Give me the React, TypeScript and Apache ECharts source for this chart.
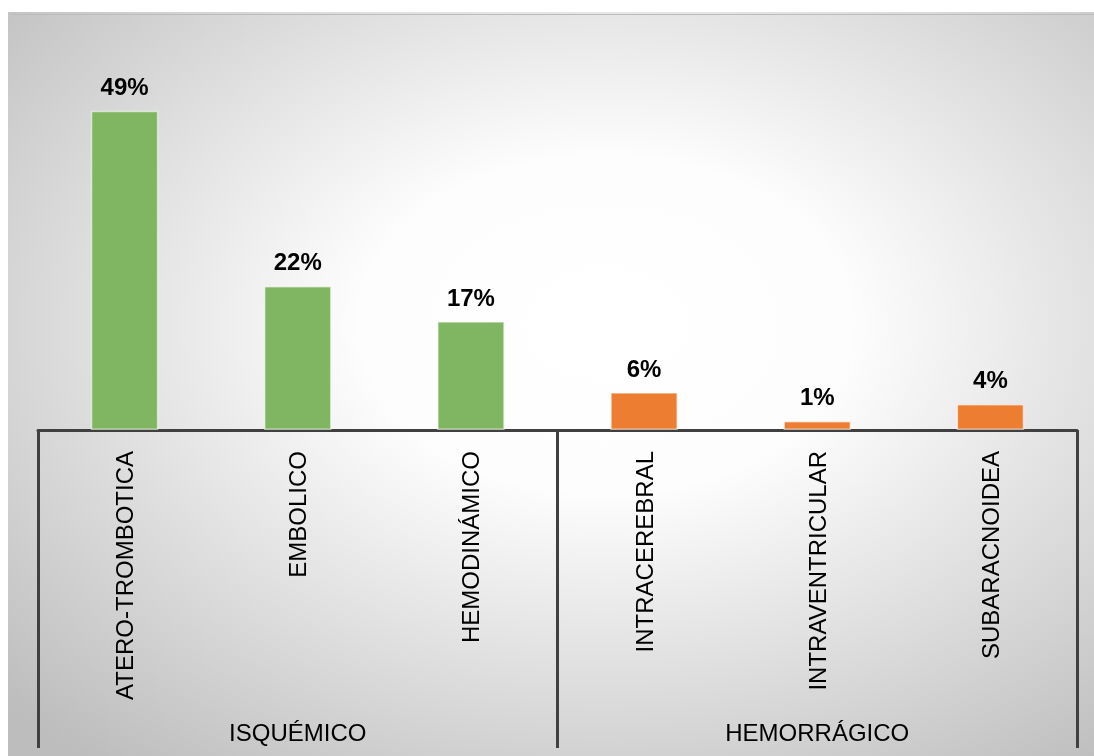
import React, { useEffect, useRef } from "react";
import * as echarts from "echarts";

const categories = [
  "ATERO-TROMBOTICA",
  "EMBOLICO",
  "HEMODINÁMICO",
  "INTRACEREBRAL",
  "INTRAVENTRICULAR",
  "SUBARACNOIDEA",
];
// bar heights (labels show the rounded percent)
const values = [49, 22.1, 16.7, 5.8, 1.4, 4];
const groups = ["ISQUÉMICO", "HEMORRÁGICO"];
const groupOf = [0, 0, 0, 1, 1, 1];
const groupColors = ["#80b661", "#ed7d31"];

const FONT = 'Arial, "Liberation Sans", sans-serif';

export default function App() {
  const ref = useRef<HTMLDivElement>(null);
  useEffect(() => {
    document.body.style.margin = "0";
    const chart = echarts.init(ref.current!, null, { renderer: "svg" });
    chart.setOption({
      animation: false,
      graphic: [
        {
          type: "rect",
          left: 0,
          top: 0,
          z: -10,
          silent: true,
          shape: { width: 1086, height: 744 },
          style: {
            fill: {
              type: "radial",
              x: 0.55,
              y: 0.42,
              r: 0.75,
              colorStops: [
                { offset: 0, color: "#ffffff" },
                { offset: 0.3, color: "#fdfdfd" },
                { offset: 1, color: "#bdbdbd" },
              ],
            },
          },
        },
        {
          type: "line",
          left: 0,
          top: 0,
          z: -9,
          silent: true,
          shape: { x1: 0, y1: 0.5, x2: 1086, y2: 0.5 },
          style: { stroke: "#bcbcbc", lineWidth: 1 },
        },
      ],
      grid: { left: 30, right: 17, top: 27, bottom: 326, containLabel: false },
      xAxis: [
        {
          type: "category",
          data: categories,
          position: "bottom",
          axisLine: { show: true, lineStyle: { color: "#404040", width: 3 } },
          axisTick: { show: false },
          axisLabel: {
            rotate: 90,
            interval: 0,
            margin: 21,
            color: "#000",
            fontSize: 24,
            fontFamily: FONT,
          },
        },
        {
          type: "category",
          data: groups,
          position: "bottom",
          axisLine: { show: false },
          axisTick: {
            show: true,
            length: 318,
            interval: 0,
            lineStyle: { color: "#404040", width: 3 },
          },
          axisLabel: {
            interval: 0,
            margin: 290,
            color: "#000",
            fontSize: 24,
            fontFamily: FONT,
          },
        },
      ],
      yAxis: {
        type: "value",
        min: 0,
        max: 60,
        show: false,
        splitLine: { show: false },
      },
      series: [
        {
          type: "bar",
          xAxisIndex: 0,
          barWidth: "39%",
          data: values.map((v, i) => ({
            value: v,
            itemStyle: {
              color: groupColors[groupOf[i]],
              borderColor: "rgba(255,255,255,0.55)",
              borderWidth: 1.5,
            },
          })),
          label: {
            show: true,
            position: "top",
            distance: 12,
            formatter: (p: any) => Math.round(p.value) + "%",
            color: "#000",
            fontWeight: "bold",
            fontSize: 24,
            fontFamily: FONT,
          },
        },
      ],
    });
    return () => chart.dispose();
  }, []);
  return (
    <div
      ref={ref}
      style={{ position: "fixed", left: 8, top: 12, width: 1086, height: 744 }}
    />
  );
}
